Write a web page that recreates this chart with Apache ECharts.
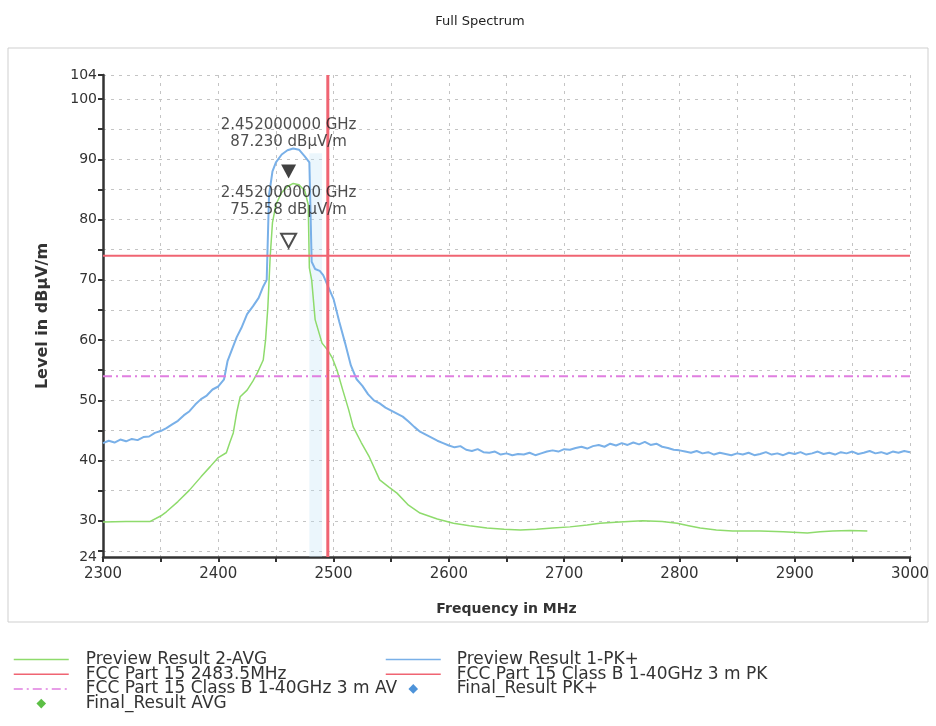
<!DOCTYPE html>
<html>
<head>
<meta charset="utf-8">
<title>Full Spectrum</title>
<script src="https://cdn.jsdelivr.net/npm/echarts@6/dist/echarts.min.js"></script>
<style>
  html, body { margin: 0; padding: 0; background: #fff; }
  #chart { width: 936px; height: 726px; }
</style>
</head>
<body>
<div id="chart"></div>
<script>
// Preview Result 1-PK+ (MHz / dBµV/m)
const pkFreq = [2300, 2305, 2310, 2315, 2320, 2325, 2330, 2335, 2340, 2345, 2350, 2355, 2360, 2365, 2370, 2375, 2380, 2385, 2390, 2395,
  2400, 2405, 2408, 2412, 2416, 2420, 2425, 2430, 2435, 2439, 2442, 2444, 2447, 2450, 2455, 2460, 2465, 2470, 2475, 2479,
  2481, 2484, 2488, 2491, 2495, 2500, 2505, 2510, 2515, 2520, 2525, 2530, 2535, 2540, 2545, 2550, 2555, 2560, 2565, 2570,
  2575, 2580, 2585, 2590, 2595, 2600, 2605, 2610, 2615, 2620, 2625, 2630, 2635, 2640, 2645, 2650, 2655, 2660, 2665, 2670,
  2675, 2680, 2685, 2690, 2695, 2700, 2705, 2710, 2715, 2720, 2725, 2730, 2735, 2740, 2745, 2750, 2755, 2760, 2765, 2770,
  2775, 2780, 2785, 2790, 2795, 2800, 2805, 2810, 2815, 2820, 2825, 2830, 2835, 2840, 2845, 2850, 2855, 2860, 2865, 2870,
  2875, 2880, 2885, 2890, 2895, 2900, 2905, 2910, 2915, 2920, 2925, 2930, 2935, 2940, 2945, 2950, 2955, 2960, 2965, 2970,
  2975, 2980, 2985, 2990, 2995, 3000];
const pkLevel = [42.9, 43.3, 43.0, 43.5, 43.2, 43.6, 43.4, 43.9, 44.0, 44.6, 44.9, 45.4, 46.0, 46.6, 47.5, 48.2, 49.3, 50.2, 50.8, 51.8,
  52.3, 53.5, 56.5, 58.5, 60.5, 62.0, 64.3, 65.6, 67.0, 68.9, 70.0, 84.0, 88.0, 89.5, 90.8, 91.5, 91.8, 91.6, 90.5, 89.5,
  73.0, 71.8, 71.5, 70.8, 69.0, 66.8, 63.0, 59.5, 55.8, 53.5, 52.4, 51.0, 50.0, 49.5, 48.8, 48.3, 47.8, 47.3, 46.5, 45.6,
  44.8, 44.3, 43.8, 43.3, 42.9, 42.5, 42.2, 42.4, 41.8, 41.6, 41.9, 41.4, 41.3, 41.5, 41.0, 41.2, 40.9, 41.1, 41.0, 41.3,
  40.9, 41.2, 41.5, 41.7, 41.5, 41.9, 41.8, 42.1, 42.3, 42.0, 42.4, 42.6, 42.3, 42.8, 42.5, 42.9, 42.6, 43.0, 42.7, 43.1,
  42.6, 42.8, 42.3, 42.1, 41.8, 41.7, 41.5, 41.3, 41.6, 41.2, 41.4, 41.0, 41.3, 41.1, 40.9, 41.2, 41.0, 41.3, 40.9, 41.1,
  41.4, 41.0, 41.2, 40.9, 41.3, 41.1, 41.4, 41.0, 41.2, 41.5, 41.1, 41.3, 41.0, 41.4, 41.2, 41.5, 41.1, 41.3, 41.6, 41.2,
  41.4, 41.1, 41.5, 41.3, 41.6, 41.4];

// Preview Result 2-AVG
const avgFreq = [2300, 2320, 2341, 2350, 2355, 2365, 2375, 2385, 2393, 2400, 2407, 2410, 2413, 2416, 2419, 2425, 2430, 2434, 2439, 2441,
  2443, 2445, 2447, 2450, 2455, 2460, 2465, 2470, 2475, 2478, 2479, 2481, 2484, 2490, 2495, 2499, 2503, 2508, 2513, 2517,
  2524, 2531, 2540, 2548, 2555, 2565, 2575, 2590, 2604, 2618, 2633, 2648, 2662, 2676, 2690, 2705, 2720, 2731, 2748, 2768,
  2785, 2798, 2808, 2818, 2832, 2846, 2870, 2890, 2911, 2922, 2933, 2948, 2963];
const avgLevel = [29.8, 29.9, 29.9, 30.8, 31.5, 33.2, 35.1, 37.3, 39.0, 40.5, 41.3, 43.0, 44.6, 48.0, 50.6, 51.7, 53.2, 54.6, 56.7, 60.0,
  65.5, 73.8, 79.5, 82.5, 84.5, 85.5, 86.0, 85.8, 84.8, 82.5, 72.0, 70.0, 63.4, 59.5, 58.3, 57.0, 55.0, 51.7, 48.5, 45.6,
  43.0, 40.6, 36.8, 35.6, 34.6, 32.6, 31.3, 30.3, 29.6, 29.2, 28.8, 28.6, 28.5, 28.6, 28.8, 29.0, 29.3, 29.6, 29.8, 30.0,
  29.9, 29.6, 29.2, 28.8, 28.5, 28.3, 28.3, 28.2, 28.0, 28.2, 28.3, 28.4, 28.3];

// limit lines
const bandEdgeFreq = [2495, 2495];
const bandEdgeLevel = [24, 104];
const limitFreq = [2300, 3000];
const pkLimit = [74, 74];
const avLimit = [54, 54];

// markers
const markerFreq = [2461, 2461];
const markerLevel = [88, 76.5];
const markerText = ['2.452000000 GHz\n87.230 dBµV/m', '2.452000000 GHz\n75.258 dBµV/m'];

const yTicks = [25, 30, 35, 40, 45, 50, 55, 60, 65, 70, 75, 80, 85, 90, 95, 100, 104];
const yLabels = [24, 30, 40, 50, 60, 70, 80, 90, 100, 104];

const legendLeft = ['Preview Result 2-AVG', 'FCC Part 15 2483.5MHz', 'FCC Part 15 Class B 1-40GHz 3 m AV', 'Final_Result AVG'];
const legendRight = ['Preview Result 1-PK+', 'FCC Part 15 Class B 1-40GHz 3 m PK', 'Final_Result PK+'];
const legendMarkers = ['Final_Result AVG', 'Final_Result PK+'];

function pairs(xs, ys) {
  return xs.map((x, i) => [x, ys[i]]);
}

// line entries: hide the dot ECharts puts in the middle of the icon
function legendItems(names) {
  return names.map(n => legendMarkers.includes(n) ? { name: n } : { name: n, itemStyle: { opacity: 0 } });
}

const font = 'DejaVu Sans';

const legendBase = {
  top: 646,
  height: 80,
  orient: 'vertical',
  itemWidth: 55,
  itemHeight: 12,
  itemGap: -2.3,
  lineStyle: { width: 1.5 }
};

const option = {
  animation: false,
  textStyle: { fontFamily: font },
  title: {
    text: 'Full Spectrum',
    left: 475,
    top: 10,
    textAlign: 'center',
    textStyle: { fontSize: 13, fontWeight: 'normal', color: '#222', fontFamily: font }
  },
  graphic: [{
    type: 'rect',
    shape: { x: 8, y: 48, width: 920, height: 574 },
    style: { fill: 'none', stroke: '#cfcfcf', lineWidth: 1 },
    silent: true
  }],
  grid: { left: 103, right: 26, top: 75, bottom: 169 },
  legend: [Object.assign({}, legendBase, {
    left: 8,
    textStyle: { fontSize: 17, color: '#333', padding: [0, 0, 0, 12] },
    data: legendItems(legendLeft)
  }), Object.assign({}, legendBase, {
    left: 380,
    textStyle: { fontSize: 17, color: '#333', padding: [0, 0, 0, 11] },
    data: legendItems(legendRight)
  })],
  xAxis: {
    type: 'value',
    min: 2300,
    max: 3000,
    interval: 50,
    name: 'Frequency in MHz',
    nameLocation: 'middle',
    nameGap: 45,
    nameTextStyle: { fontSize: 14, fontWeight: 'bold', color: '#333' },
    axisLine: { lineStyle: { color: '#333', width: 2.5 } },
    axisTick: { length: 5, lineStyle: { color: '#333', width: 2 } },
    axisLabel: {
      fontSize: 15,
      color: '#333',
      margin: 10,
      formatter: v => (v % 100 === 0 ? String(v) : '')
    },
    splitLine: { show: true, lineStyle: { color: '#c4c4c4', type: [3, 5], width: 1 } }
  },
  yAxis: {
    type: 'value',
    min: 24,
    max: 104,
    name: 'Level in dBµV/m',
    nameLocation: 'middle',
    nameGap: 52,
    nameTextStyle: { fontSize: 16, fontWeight: 'bold', color: '#333' },
    axisLine: { show: true, lineStyle: { color: '#333', width: 2.5 } },
    axisTick: { show: true, length: 5, customValues: yTicks, lineStyle: { color: '#333', width: 2 } },
    axisLabel: { fontSize: 14, color: '#333', margin: 6, customValues: yLabels },
    splitLine: { show: true, lineStyle: { color: '#c4c4c4', type: [3, 5], width: 1 } }
  },
  series: [{
    name: 'Preview Result 2-AVG',
    type: 'line',
    symbol: 'none',
    z: 4,
    lineStyle: { color: '#8edb6c', width: 1.5 },
    itemStyle: { color: '#8edb6c' },
    data: pairs(avgFreq, avgLevel)
  }, {
    name: 'Preview Result 1-PK+',
    type: 'line',
    symbol: 'none',
    z: 3,
    lineStyle: { color: '#79b0e8', width: 2 },
    itemStyle: { color: '#79b0e8' },
    markArea: {
      silent: true,
      itemStyle: { color: 'rgba(190,225,245,0.3)' },
      data: [[{ coord: [2479, 24] }, { coord: [2490, 91] }]]
    },
    data: pairs(pkFreq, pkLevel)
  }, {
    name: 'FCC Part 15 2483.5MHz',
    type: 'line',
    symbol: 'none',
    z: 5,
    lineStyle: { color: '#f06472', width: 3 },
    itemStyle: { color: '#f06472' },
    data: pairs(bandEdgeFreq, bandEdgeLevel)
  }, {
    name: 'FCC Part 15 Class B 1-40GHz 3 m PK',
    type: 'line',
    symbol: 'none',
    z: 5,
    lineStyle: { color: '#f06472', width: 2 },
    itemStyle: { color: '#f06472' },
    data: pairs(limitFreq, pkLimit)
  }, {
    name: 'FCC Part 15 Class B 1-40GHz 3 m AV',
    type: 'line',
    symbol: 'none',
    z: 5,
    lineStyle: { color: '#e07ee0', width: 2, type: [9, 4, 2, 4] },
    itemStyle: { color: '#e07ee0' },
    data: pairs(limitFreq, avLimit)
  }, {
    name: 'Final_Result PK+',
    type: 'line',
    symbol: 'diamond',
    symbolSize: 8,
    lineStyle: { opacity: 0 },
    itemStyle: { color: '#4d93d9' },
    data: []
  }, {
    name: 'Final_Result AVG',
    type: 'line',
    symbol: 'diamond',
    symbolSize: 8,
    lineStyle: { opacity: 0 },
    itemStyle: { color: '#5cbf45' },
    data: []
  }, {
    name: 'marker',
    type: 'scatter',
    z: 10,
    symbol: 'triangle',
    symbolRotate: 180,
    symbolSize: [15, 14],
    data: markerFreq.map((f, i) => ({
      value: [f, markerLevel[i]],
      itemStyle: i === 0
        ? { color: '#111' }
        : { color: '#fff', borderColor: '#222', borderWidth: 2 },
      label: {
        show: true,
        position: 'top',
        distance: 14,
        formatter: markerText[i],
        fontSize: 15,
        lineHeight: 17,
        color: '#222'
      }
    }))
  }]
};

const chart = echarts.init(document.getElementById('chart'));
chart.setOption(option);
</script>
</body>
</html>
